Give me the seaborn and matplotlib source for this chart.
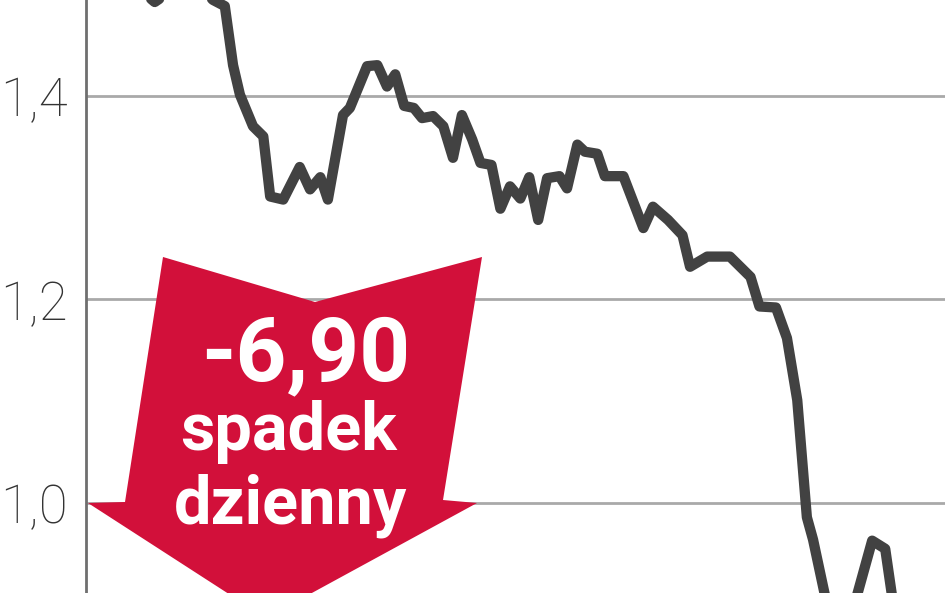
import matplotlib
matplotlib.use("Agg")
import matplotlib.pyplot as plt
from matplotlib.patches import Polygon
import seaborn as sns
import pandas as pd

# ---- data ----
dzien = [3.5, 7.9, 10.0, 11.5, 15.1, 18.5, 20.2, 21.4, 22.4, 24.3, 25.8, 26.8,
         28.7, 31.1, 32.6, 34.1, 35.2, 37.4, 38.4, 40.9, 42.4, 43.8, 45.0, 46.3,
         47.7, 48.9, 50.5, 52.0, 53.4, 54.7, 56.2, 57.4, 59.0, 60.3, 61.7, 63.2,
         64.5, 65.8, 67.1, 68.9, 70.0, 71.5, 72.6, 74.4, 75.5, 78.2, 81.1, 82.5,
         84.7, 86.8, 87.9, 90.4, 93.7, 96.7, 98.0, 100.4, 102.0, 103.5, 104.9,
         105.8, 108.3, 111.2, 114.4, 116.3, 117.8, 121.4, 125.0]
kurs = [1.524, 1.504, 1.492, 1.499, 1.514, 1.494, 1.488, 1.430, 1.401, 1.370,
        1.360, 1.301, 1.298, 1.330, 1.308, 1.320, 1.298, 1.381, 1.388, 1.429,
        1.430, 1.409, 1.421, 1.390, 1.388, 1.378, 1.380, 1.370, 1.339, 1.381,
        1.357, 1.334, 1.332, 1.289, 1.311, 1.299, 1.320, 1.278, 1.319, 1.321,
        1.309, 1.352, 1.345, 1.343, 1.321, 1.321, 1.270, 1.291, 1.278, 1.263,
        1.232, 1.242, 1.242, 1.222, 1.193, 1.192, 1.162, 1.101, 0.986, 0.964,
        0.885, 0.885, 0.963, 0.955, 0.885, 0.856, 0.865]
y_ticks = [1.0, 1.2, 1.4]
y_labels = ["1,0", "1,2", "1,4"]
zmiana = "-6,90"
opis = ["spadek", "dzienny"]

df = pd.DataFrame({"dzien": dzien, "kurs": kurs})

sns.set_style("white")
plt.rcParams["font.family"] = ["Roboto", "DejaVu Sans"]

W, H = 948, 593
fig = plt.figure(figsize=(W / 100, H / 100), dpi=100)
ax = fig.add_axes([86 / W, 0, (945 - 86) / W, 1])

sns.lineplot(data=df, x="dzien", y="kurs", ax=ax, color="#424242",
             linewidth=7.4, solid_joinstyle="round", solid_capstyle="round",
             zorder=5)

ax.set_xlim(0, 125)
ax.set_ylim(0.9116, 1.494)
ax.set_yticks(y_ticks)
ax.set_yticklabels(y_labels, fontsize=38, fontweight="light", color="#333333")
ax.set_xticks([])
ax.set_xlabel("")
ax.set_ylabel("")
ax.tick_params(axis="y", length=0, pad=13)
ax.yaxis.grid(True, color="#a9a9a9", linewidth=2, zorder=0)
ax.set_axisbelow(True)
for s in ["top", "right", "bottom"]:
    ax.spines[s].set_visible(False)
ax.spines["left"].set_color("#6f6f6f")
ax.spines["left"].set_linewidth(2)

# red arrow annotation (figure pixel coordinates)
pts = [(163, 257), (315, 302), (482, 257), (443, 500), (477, 503),
       (266, 618), (88, 503), (125, 502)]
poly = Polygon([(x / W, 1 - y / H) for x, y in pts], closed=True,
               transform=fig.transFigure, facecolor="#d2103a",
               edgecolor="none", zorder=3, clip_on=False)
ax.add_patch(poly)

fig.text(306 / W, 1 - 380 / H, zmiana, ha="center", va="baseline",
         fontsize=64, fontweight="bold", color="white", zorder=6)
fig.text(289 / W, 1 - 450 / H, opis[0], ha="center", va="baseline",
         fontsize=48, fontweight="bold", color="white", zorder=6)
fig.text(291 / W, 1 - 523 / H, opis[1], ha="center", va="baseline",
         fontsize=48, fontweight="bold", color="white", zorder=6)

fig.savefig("out.png", dpi=100, facecolor="white")
